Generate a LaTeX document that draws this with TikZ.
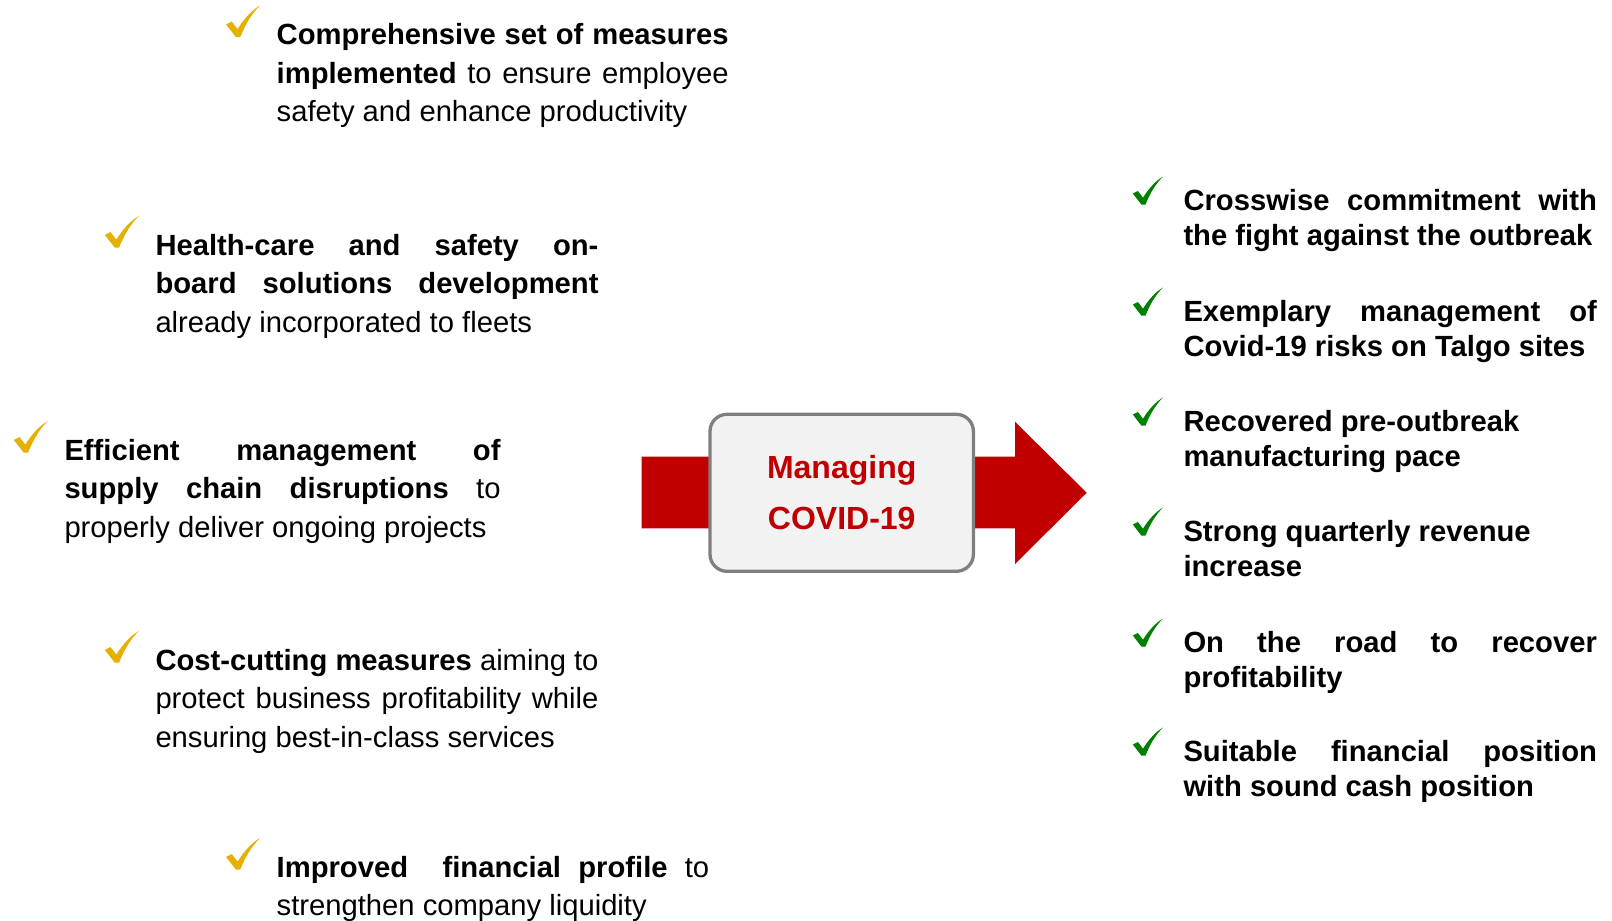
\documentclass[tikz,border=0pt]{standalone}
\usepackage{fontspec}
\setmainfont{Liberation Sans}
\usepackage{tikz}
\usetikzlibrary{positioning}
\definecolor{covidred}{RGB}{192, 0, 0}
\definecolor{tickgold}{RGB}{230, 176, 0}
\definecolor{tickgreen}{RGB}{0, 128, 0}
\definecolor{boxgray}{RGB}{127, 127, 127}
\definecolor{boxfill}{RGB}{242, 242, 242}
\tikzset{
  tickpath/.style={
    insert path={(0,0.40) -- (0.17,0.49) -- (0.34,0.25)
      .. controls (0.55,0.62) and (0.8,0.88) .. (1,1)
      .. controls (0.72,0.70) and (0.56,0.36) .. (0.42,0) -- (0.29,0) -- cycle}
  },
  lefttick/.style={
    fill=tickgold, xshift=-50.5pt, yshift=7.5pt, x=34pt, y=31.5pt, tickpath
  },
  righttick/.style={
    fill=tickgreen, xshift=-50.5pt, yshift=6pt, x=30pt, y=28pt, tickpath
  },
  leftitem/.style={
    anchor=base west, inner sep=0pt, text width=#1, align=justify,
    font=\fontsize{29.2}{38.5}\selectfont
  },
  rightitem/.style={
    anchor=base west, inner sep=0pt, text width=413.4pt, align=justify,
    font=\fontsize{29.2}{35}\selectfont\bfseries
  },
  covidbox/.style={
    rectangle, rounded corners=17pt,
    minimum width=263.4pt, minimum height=157pt,
    draw=boxgray, line width=3.3pt, fill=boxfill,
    align=center, text=covidred, font=\fontsize{32}{51}\selectfont\bfseries
  }
}

\begin{document}
\begin{tikzpicture}[x=1pt, y=-1pt]
  \useasboundingbox (0,0) rectangle (1612,921);

  %% — — — Central arrow — — —
  \fill[covidred] (641.7,456.7) -- (1015,456.7) -- (1015,421.7) -- (1086.7,492.8)
    -- (1015,564) -- (1015,528.3) -- (641.7,528.3) -- cycle;
  \node[covidbox] (covid) at (841.7,492.8) {Managing\\COVID-19};

  %% — — — Measures (left) — — —
  \node[leftitem=452pt] (act1) at (276.5,44.5)
    {\textbf{Comprehensive set of measures\linebreak implemented} to ensure
     employee\linebreak safety and enhance productivity};
  \path[shift={(act1.base west)}, lefttick];

  \node[leftitem=443pt] (act2) at (155.3,255)
    {\textbf{Health-care and safety on-\linebreak board solutions
     development}\linebreak already incorporated to fleets};
  \path[shift={(act2.base west)}, lefttick];

  \node[leftitem=436pt] (act3) at (64.3,460)
    {\textbf{Efficient management of\linebreak supply chain disruptions}
     to\linebreak properly deliver ongoing projects};
  \path[shift={(act3.base west)}, lefttick];

  \node[leftitem=443pt] (act4) at (155.3,670)
    {\textbf{Cost-cutting measures} aiming to\linebreak protect business
     profitability while\linebreak ensuring best-in-class services};
  \path[shift={(act4.base west)}, lefttick];

  \node[leftitem=432.5pt] (act5) at (276.5,877)
    {\textbf{Improved~\ financial profile} to\linebreak strengthen company
     liquidity};
  \path[shift={(act5.base west)}, lefttick];

  %% — — — Outcomes (right) — — —
  \node[rightitem] (res1) at (1183.3,210.7)
    {Crosswise commitment with\linebreak the fight against the outbreak};
  \path[shift={(res1.base west)}, righttick];

  \node[rightitem] (res2) at (1183.3,321.7)
    {Exemplary management of\linebreak Covid-19 risks on Talgo sites};
  \path[shift={(res2.base west)}, righttick];

  \node[rightitem] (res3) at (1183.3,431.7)
    {Recovered pre-outbreak\\manufacturing pace};
  \path[shift={(res3.base west)}, righttick];

  \node[rightitem] (res4) at (1183.3,541.7)
    {Strong quarterly revenue\\increase};
  \path[shift={(res4.base west)}, righttick];

  \node[rightitem] (res5) at (1183.3,652.7)
    {On the road to recover\linebreak profitability};
  \path[shift={(res5.base west)}, righttick];

  \node[rightitem] (res6) at (1183.3,761.7)
    {Suitable financial position\linebreak with sound cash position};
  \path[shift={(res6.base west)}, righttick];

\end{tikzpicture}
\end{document}
